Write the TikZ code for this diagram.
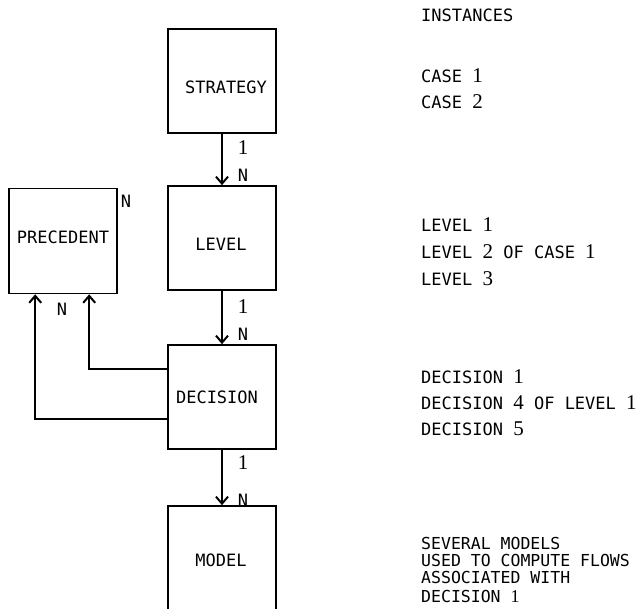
\documentclass[tikz,border=0pt]{standalone}
\usepackage{fontspec}
\setmainfont{DejaVu Sans Mono}
\newfontfamily\digf{Liberation Serif}
\usetikzlibrary{arrows.meta}
\newcommand{\dg}[1]{{\digf\fontsize{21}{22}\selectfont #1}}
\newcommand{\dgs}[1]{{\digf\fontsize{18}{19}\selectfont #1}}
\begin{document}
\begin{tikzpicture}[x=1pt,y=-1pt,
  font=\fontsize{17}{19}\selectfont,
  box/.style={draw,line width=1.6pt,minimum width=108pt,minimum height=104pt,inner sep=0pt},
  arr/.style={line width=2pt,-{Straight Barb[length=7pt,width=12pt,line width=2pt]}},
  txt/.style={anchor=base west,inner sep=0pt},
  smalltxt/.style={anchor=base west,inner sep=0pt,font=\fontsize{16.5}{17}\selectfont},
  lab/.style={anchor=base,inner sep=0pt},
  boxlab/.style={anchor=base,inner sep=0pt}]
\useasboundingbox (0,0) rectangle (639,609);
\node[box] (s) at (222,81) {};
\node[box] (l) at (222,238) {};
\node[box,minimum height=105pt] (p) at (63,241) {};
\node[box] (d) at (222,397) {};
\node[box] (m) at (222,558) {};
\node[boxlab] (sl) at (226,94) {STRATEGY};
\node[boxlab] (ll) at (221,251) {LEVEL};
\node[boxlab] (pl) at (63,244) {PRECEDENT};
\node[boxlab] (dl) at (217,403) {DECISION};
\node[boxlab] (ml) at (221,566) {MODEL};
\draw[arr] (s.south) -- (l.north);
\draw[arr] (l.south) -- (d.north);
\draw[arr] (d.south) -- (m.north);
\draw[arr] ([yshift=-22pt]d.west) -| ([xshift=27pt]p.south west);
\draw[arr] ([yshift=28pt]d.west) -| ([xshift=81pt]p.south west);
\node[lab] (s1) at (243,155) {\dg{1}};
\node[lab] (sN) at (243,182) {N};
\node[lab] (l1) at (243,313) {\dg{1}};
\node[lab] (lN) at (243,340) {N};
\node[lab] (d1) at (243,469) {\dg{1}};
\node[lab] (dN) at (243,506) {N};
\node[lab] (pN) at (62,315) {N};
\node[lab] (pN2) at (126,208) {N};
\node[txt] (t0) at (421,22) {INSTANCES};
\node[txt] (t1) at (421,83) {CASE \dg{1}};
\node[txt] (t2) at (421,109) {CASE \dg{2}};
\node[txt] (t3) at (421,232) {LEVEL \dg{1}};
\node[txt] (t4) at (421,259) {LEVEL \dg{2} OF CASE \dg{1}};
\node[txt] (t5) at (421,286) {LEVEL \dg{3}};
\node[txt] (t6) at (421,383) {DECISION \dg{1}};
\node[txt] (t7) at (421,409) {DECISION \dg{4} OF LEVEL \dg{1}};
\node[txt] (t8) at (421,435) {DECISION \dg{5}};
\node[smalltxt] (t9) at (421,549) {SEVERAL MODELS};
\node[smalltxt] (t10) at (421,566) {USED TO COMPUTE FLOWS};
\node[smalltxt] (t11) at (421,583) {ASSOCIATED WITH};
\node[smalltxt] (t12) at (421,602) {DECISION \dgs{1}};
\end{tikzpicture}
\end{document}
